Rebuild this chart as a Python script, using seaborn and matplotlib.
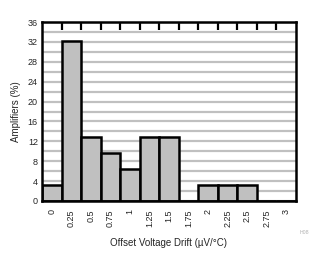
import matplotlib
matplotlib.use("Agg")
import matplotlib.pyplot as plt
from matplotlib.ticker import MultipleLocator, FixedLocator
import seaborn as sns
import pandas as pd

drift_labels = ["0", "0.25", "0.5", "0.75", "1", "1.25", "1.5", "1.75",
                "2", "2.25", "2.5", "2.75", "3"]
amplifiers_pct = [3.23, 32.26, 12.9, 9.68, 6.45, 12.9, 12.9, 0,
                  3.23, 3.23, 3.23, 0, 0]
y_ticks = [0, 4, 8, 12, 16, 20, 24, 28, 32, 36]

df = pd.DataFrame({"drift": drift_labels, "pct": amplifiers_pct})

sns.set_style("white")
plt.rcParams["font.family"] = ["Liberation Sans", "DejaVu Sans"]

fig = plt.figure(figsize=(3.29, 2.66), dpi=100)
ax = fig.add_axes([42/329, 1 - 201/266, 254/329, 179/266])

ax.set_axisbelow(True)
ax.yaxis.set_minor_locator(MultipleLocator(2))
ax.grid(axis="y", which="both", color="#c0c0c0", linewidth=1.6)
ax.grid(axis="x", visible=False)

sns.barplot(data=df, x="drift", y="pct", order=drift_labels, color="#c0c0c0",
            saturation=1, edgecolor="black", linewidth=1.8, width=1.0, ax=ax)

ax.set_ylim(0, 36)
ax.set_xlim(-0.5, len(drift_labels) - 0.5)
ax.set_yticks(y_ticks)
ax.set_yticklabels([str(v) for v in y_ticks], fontsize=6.5)
ax.set_xticks(range(len(drift_labels)))
ax.set_xticklabels(drift_labels, rotation=90, fontsize=6.5)
ax.xaxis.set_minor_locator(FixedLocator([i + 0.5 for i in range(len(drift_labels) - 1)]))
ax.tick_params(axis="x", which="major", length=0, pad=6)
ax.tick_params(axis="x", which="minor", top=True, bottom=False, direction="in",
               length=5.5, width=1.6, color="black")
ax.tick_params(axis="y", which="both", length=0, pad=3)

for s in ax.spines.values():
    s.set_visible(True)
    s.set_color("black")
    s.set_linewidth(1.8)

ax.set_xlabel("Offset Voltage Drift (µV/°C)", fontsize=7, labelpad=8)
ax.set_ylabel("Amplifiers (%)", fontsize=7, labelpad=5)

fig.text(304/329, 1 - 233/266, "H08", fontsize=3.8, color="#b0b0b0", ha="center", va="center")

fig.savefig("out.png", dpi=100)
